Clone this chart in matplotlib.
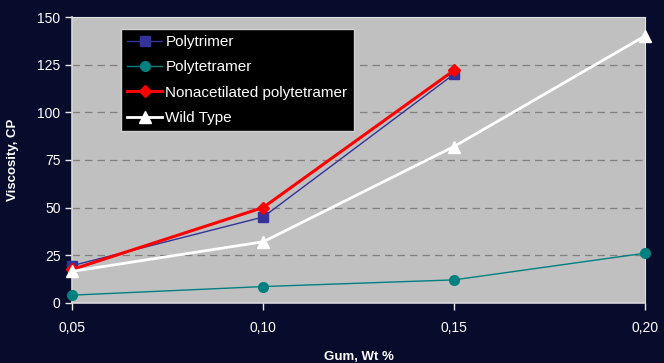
import matplotlib
matplotlib.use("Agg")
import matplotlib.pyplot as plt

plt.rcParams['font.family'] = ['Liberation Sans', 'DejaVu Sans']

# data
gum = [0.05, 0.10, 0.15, 0.20]
gum_labels = ["0,05", "0,10", "0,15", "0,20"]
polytrimer = [19.5, 45, 120]
polytetramer = [4, 8.5, 12, 26]
nonacetilated = [17.5, 50, 122]
wild_type = [16.5, 32, 82, 140]
yticks = [0, 25, 50, 75, 100, 125, 150]

bg = "#070c2c"
fig = plt.figure(figsize=(6.64, 3.63), dpi=100, facecolor=bg)
ax = fig.add_axes([0.109, 0.166, 0.862, 0.787])
ax.set_facecolor("#c0c0c0")

# dashed gridlines
for y in yticks[1:-1]:
    ax.axhline(y, color="#808080", lw=0.9, ls=(0, (6, 4)), zorder=1)

ax.plot(gum[:3], polytrimer, color="#333399", lw=1, marker="s", ms=7,
        label="Polytrimer", clip_on=False, zorder=3)
ax.plot(gum, polytetramer, color="#008080", lw=1, marker="o", ms=7,
        label="Polytetramer", clip_on=False, zorder=3)
ax.plot(gum[:3], nonacetilated, color="#ff0000", lw=2.2, marker="D", ms=6,
        label="Nonacetilated polytetramer", clip_on=False, zorder=4)
ax.plot(gum, wild_type, color="#ffffff", lw=2, marker="^", ms=8,
        label="Wild Type", clip_on=False, zorder=4)

ax.set_xlim(0.05, 0.20)
ax.set_ylim(0, 150)
ax.set_xticks(gum)
ax.set_xticklabels(gum_labels)
ax.set_yticks(yticks)

for s in ["left", "bottom"]:
    ax.spines[s].set_color("#d8d8d8")
    ax.spines[s].set_linewidth(1.2)
for s in ["top", "right"]:
    ax.spines[s].set_color("#e0e0e0")
    ax.spines[s].set_linewidth(0.8)

ax.tick_params(colors="#e8e8e8", labelcolor="white", labelsize=10,
               length=5, width=1)
ax.tick_params(axis="x", pad=8)

ax.set_xlabel("Gum, Wt %", color="white", fontsize=9.5, fontweight="bold",
              labelpad=12)
ax.set_ylabel("Viscosity, CP", color="white", fontsize=9.5, fontweight="bold",
              labelpad=13)

leg = fig.legend(loc="upper left", bbox_to_anchor=(0.1822, 0.920),
                 borderaxespad=0, frameon=True, fancybox=False,
                 facecolor="black", edgecolor="#d0d0d0", framealpha=1,
                 fontsize=11, labelcolor="white", handlelength=2.3,
                 handletextpad=0.2, labelspacing=0.74, borderpad=0.4)
leg.get_frame().set_linewidth(1)

fig.savefig("out.png", dpi=100, facecolor=bg)
